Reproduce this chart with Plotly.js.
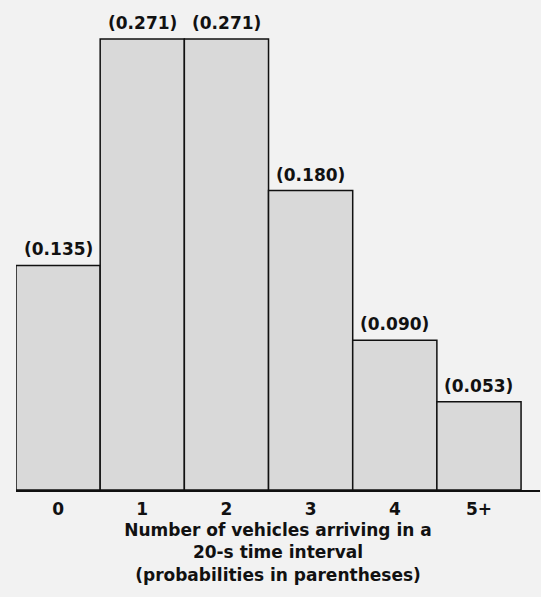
<!DOCTYPE html>
<html>
<head>
<meta charset="utf-8">
<script src="https://cdn.plot.ly/plotly-3.0.1.min.js"></script>
<style>html,body{margin:0;padding:0;background:#f2f2f2;}#chart{width:541px;height:597px;}</style>
</head>
<body>
<div id="chart"></div>
<script>
const categories = ["0", "1", "2", "3", "4", "5+"];
const positions = [0, 1, 2, 3, 4, 5];
const probabilities = [0.135, 0.271, 0.271, 0.180, 0.090, 0.053];
const xTitle = "Number of vehicles arriving in a<br>20-s time interval<br>(probabilities in parentheses)";

const FONT = "'DejaVu Sans', sans-serif";
const W = "bold";
const FS = 17;

const trace = {
  type: "bar",
  x: positions,
  y: probabilities,
  width: 1,
  marker: { color: "#d9d9d9", line: { color: "#111111", width: 1.5 } },
  hoverinfo: "skip"
};

const annotations = probabilities.map((p, i) => ({
  x: positions[i], y: p, xref: "x", yref: "y",
  text: "(" + p.toFixed(3) + ")",
  showarrow: false, yanchor: "bottom", yshift: 4,
  font: { family: FONT, size: FS, color: "#111111", weight: W }
}));

const layout = {
  width: 541, height: 597,
  paper_bgcolor: "#f2f2f2", plot_bgcolor: "#f2f2f2",
  margin: { l: 16, r: 1, t: 10, b: 107 },
  showlegend: false,
  bargap: 0,
  font: { family: FONT, size: FS, color: "#111111", weight: W },
  xaxis: {
    range: [-0.5, 5.725],
    tickvals: positions, ticktext: categories,
    showgrid: false, zeroline: false,
    showline: true, linecolor: "#111111", linewidth: 2,
    ticks: "outside", ticklen: 3, tickcolor: "rgba(0,0,0,0)",
    tickfont: { family: FONT, size: FS, color: "#111111", weight: W },
    title: { text: xTitle, font: { family: FONT, size: FS, color: "#111111", weight: W }, standoff: 6 },
    fixedrange: true
  },
  yaxis: {
    range: [0, 0.2885],
    visible: false, showgrid: false, zeroline: false,
    fixedrange: true
  },
  annotations: annotations
};

Plotly.newPlot("chart", [trace], layout, { displayModeBar: false, staticPlot: true });
</script>
</body>
</html>
